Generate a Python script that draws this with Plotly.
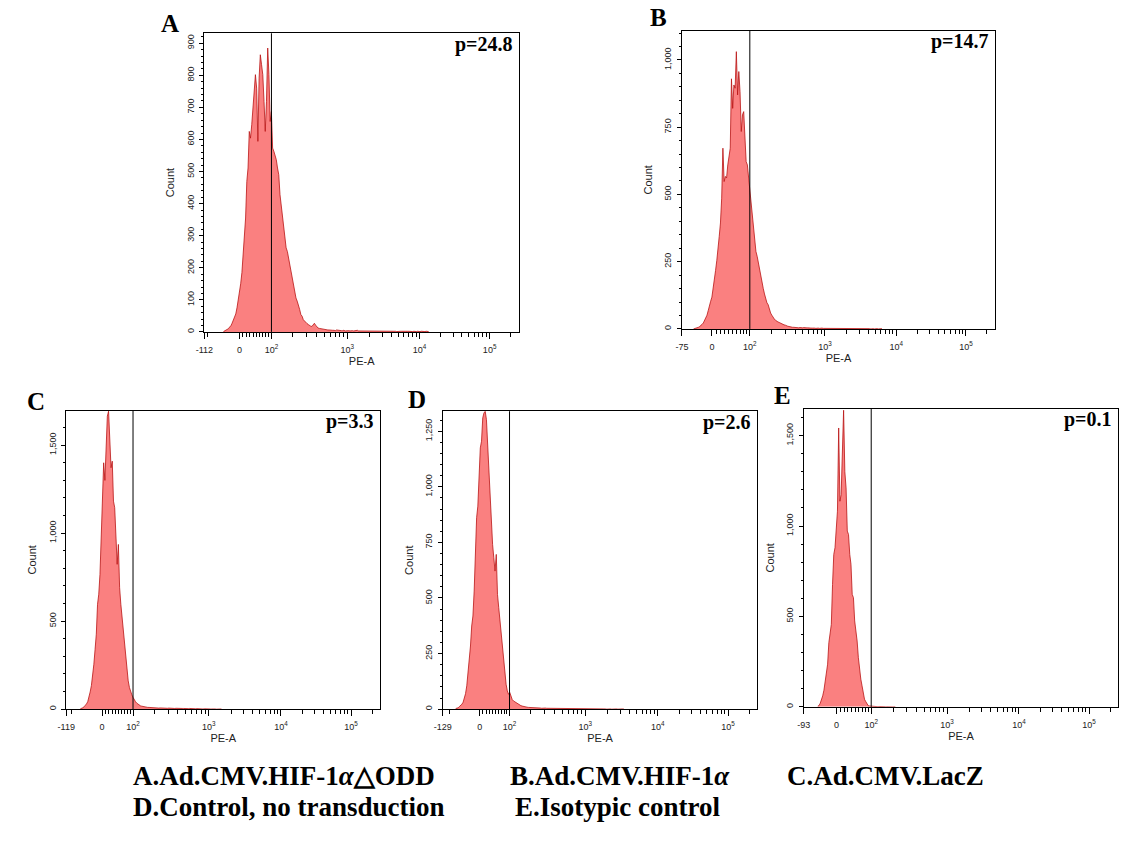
import numpy as np
import plotly.graph_objects as go

# ---------------- data (counts per display channel, 256 channels) ----------------
N_CH = 256
T_TOP = 262144.0
M_DEC = 4.5
GATE_VALUE = 100

PANELS = ["A", "B", "C", "D", "E"]
P_VALUES = ["p=24.8", "p=14.7", "p=3.3", "p=2.6", "p=0.1"]
X_MINS = [-112, -75, -119, -129, -93]
Y_MAXS = [931, 1109, 1697, 1340, 1648]
Y_DTICKS = [100, 250, 500, 250, 500]
X_TICK_VALUES = [0, 100, 1000, 10000, 100000]
X_TICK_TEXT = ["0", "10<sup>2</sup>", "10<sup>3</sup>", "10<sup>4</sup>", "10<sup>5</sup>"]
X_MINOR_VALUES = ([-100] + list(range(10, 100, 10)) + list(range(200, 1000, 100))
                  + list(range(2000, 10000, 1000)) + list(range(20000, 100000, 10000)) + [200000])

A_START = 15
A_PEAK = [1, 3, 5, 7, 10, 15, 19, 27, 35, 44, 56, 75, 96, 127, 150, 185, 241, 282, 355, 469,
          511, 625, 604, 646, 698, 719, 802, 760, 594, 791, 864, 833, 802, 719, 625, 719, 885, 802,
          656, 687, 573, 563, 552, 537, 511, 490, 428, 397, 366, 334, 298, 262, 251, 231, 210, 184,
          168, 147, 121, 106, 96, 85, 70, 54, 49, 38, 33, 30, 26, 23, 20, 18, 17, 21, 27, 21, 15,
          12, 11, 10, 9, 8, 8, 7, 7, 6]
A_TAIL = [6, 5, 6, 5, 5, 4, 6, 5, 4, 5, 4, 4, 5, 3, 4, 5, 4, 3, 4, 4, 3, 4, 3, 5, 3, 3, 4, 3, 3,
          4, 2, 3, 3, 4, 3, 2, 3, 3, 2, 3, 4, 2, 3, 2, 3, 2, 2, 3, 2, 3, 2, 2, 3, 2, 2, 1, 2, 3, 2,
          2, 1, 2, 2, 1, 2, 2, 1, 2, 1, 2, 1, 1, 2, 1, 1, 2, 1, 1, 1, 2, 1, 1]

B_START = 9
B_PEAK = [0, 1, 2, 4, 6, 9, 12, 17, 22, 30, 38, 51, 68, 90, 103, 118, 146, 179, 217, 254, 291,
          344, 394, 486, 672, 548, 567, 561, 610, 635, 672, 930, 820, 907, 895, 1031, 870, 957,
          882, 734, 796, 808, 722, 622, 610, 561, 511, 474, 437, 375, 313, 288, 270, 245, 226,
          189, 165, 150, 130, 109, 97, 90, 72, 59, 51, 41, 37, 32, 28, 26, 24, 21, 20, 17, 15,
          14, 11, 10, 9, 7]
B_TAIL = [7, 6, 6, 5, 6, 5, 4, 5, 4, 4, 5, 3, 4, 4, 3, 4, 3, 3, 4, 3, 2, 3, 3, 2, 3, 3, 2, 2, 3,
          2, 2, 3, 2, 2, 2, 1, 2, 2, 1, 2, 2, 1, 2, 1, 2, 1, 1, 2, 1, 1, 2, 1, 1, 1, 2, 1, 1, 1, 1,
          2, 1, 1, 1, 1, 1, 0, 1, 1, 0, 1, 1, 0, 1, 0, 1]

C_START = 11
C_PEAK = [2, 4, 8, 13, 19, 30, 42, 64, 98, 134, 185, 255, 339, 426, 596, 653, 766, 955, 1126,
          1400, 1300, 1561, 1665, 1693, 1561, 1372, 1409, 1182, 1145, 918, 823, 936, 690, 596,
          520, 435, 350, 274, 208, 161, 123, 95, 81, 66, 51, 42, 34, 28, 23, 19]
C_TAIL = [17, 15, 13, 12, 11, 10, 10, 9, 8, 9, 8, 7, 8, 7, 6, 7, 6, 6, 7, 5, 6, 5, 6, 5, 4, 5, 5,
          4, 5, 4, 4, 5, 3, 4, 4, 3, 4, 3, 3, 4, 3, 2, 3, 2, 2, 3, 2, 1, 2, 2, 1, 2, 1, 1, 2, 1, 1,
          1, 2, 1, 1, 0, 1, 1, 0, 1]

D_START = 10
D_PEAK = [3, 4, 6, 12, 16, 22, 31, 46, 70, 105, 157, 214, 284, 374, 419, 531, 689, 861, 913,
          1070, 1175, 1205, 1310, 1332, 1340, 1302, 1175, 1070, 936, 846, 741, 681, 621, 696,
          516, 457, 397, 322, 262, 210, 160, 112, 82, 67, 75, 52, 43, 37, 33, 28, 24]
D_TAIL = [21, 18, 16, 14, 12, 11, 10, 9, 8, 8, 7, 7, 6, 6, 6, 5, 5, 6, 5, 4, 5, 4, 5, 4, 4, 3, 4,
          4, 3, 4, 3, 3, 4, 3, 3, 2, 3, 3, 2, 3, 2, 3, 2, 2, 3, 2, 2, 2, 1, 2, 2, 1, 2, 2, 1, 2, 1,
          2, 1, 1, 2, 1, 1, 2, 1, 1, 1, 1, 2, 1, 1, 1, 0, 1, 1, 1, 0, 1, 1, 0, 1, 0, 1, 1, 0, 1, 0]

E_START = 11
E_PEAK = [4, 7, 20, 39, 61, 92, 134, 177, 236, 355, 401, 456, 677, 843, 880, 972, 1082, 1542,
          1137, 1174, 1386, 1640, 1300, 1211, 972, 953, 843, 788, 622, 604, 475, 420, 364, 272,
          199, 153, 116, 79, 42, 29, 15, 7]
E_TAIL = [5, 4, 3, 3, 2, 2, 2, 1, 2, 1, 1, 1, 0, 1, 1, 0, 1, 0, 1, 0, 0, 1]

STARTS = [A_START, B_START, C_START, D_START, E_START]
PEAKS = [A_PEAK, B_PEAK, C_PEAK, D_PEAK, E_PEAK]
TAILS = [A_TAIL, B_TAIL, C_TAIL, D_TAIL, E_TAIL]

CAPTIONS = [
    ("A.Ad.CMV.HIF-1<i>α</i>△ODD", 123, 777),
    ("B.Ad.CMV.HIF-1<i>α</i>", 503, 777),
    ("C.Ad.CMV.LacZ", 782, 777),
    ("D.Control, no transduction", 123, 808),
    ("E.Isotypic control", 508, 808),
]

# ---------------- layout (pixel boxes) ----------------
W, H = 1134, 850
BOXES = [(197, 514, 33.3, 332.3), (678.3, 994, 30.7, 329.3), (57.7, 374.3, 411, 710),
         (437.3, 754.3, 411.7, 710), (801, 1118.3, 409.3, 707.7)]
LETTER_POS = [(162, 24), (655, 18), (27, 402), (411, 400), (780, 396)]

# ---------------- logicle (biexponential) display scale ----------------
M_NAT = M_DEC * np.log(10.0)


def logicle_params(xmin):
    lo, hi = 1.000001, 20.0
    for _ in range(200):
        p = 0.5 * (lo + hi)
        w = 2 * p * np.log(p) / (p + 1)
        val = T_TOP * np.exp(-(M_NAT - w)) * (p * p - 1)
        if val > abs(xmin):
            hi = p
        else:
            lo = p
    p = 0.5 * (lo + hi)
    return p, 2 * p * np.log(p) / (p + 1)


def logicle_S(x, p, w):
    a = T_TOP * np.exp(-(M_NAT - w))
    if x >= w:
        d = x - w
        return a * (np.exp(d) - p * p * np.exp(-d / p) + p * p - 1)
    return -logicle_S(2 * w - x, p, w)


def to_channel(v, p, w):
    lo, hi = 0.0, M_NAT
    for _ in range(200):
        mid = 0.5 * (lo + hi)
        if logicle_S(mid, p, w) < v:
            lo = mid
        else:
            hi = mid
    return N_CH * 0.5 * (lo + hi) / M_NAT


AX_FONT = dict(family="Arial, Liberation Sans, sans-serif", size=9, color="#222")
SERIF = "Times New Roman, Liberation Serif, serif"

fig = go.Figure()
layout = dict(width=W, height=H, margin=dict(l=0, r=0, t=0, b=0),
              paper_bgcolor="white", plot_bgcolor="white", showlegend=False,
              annotations=[], shapes=[])

for i, name in enumerate(PANELS):
    sfx = "" if i == 0 else str(i + 1)
    xa, ya = "x" + sfx, "y" + sfx
    p, w = logicle_params(X_MINS[i])
    series = PEAKS[i] + TAILS[i]
    channels = STARTS[i] + np.arange(len(series)) + 0.5
    fig.add_trace(go.Scatter(x=channels, y=series, mode="lines", fill="tozeroy",
                             fillcolor="rgb(250,128,128)",
                             line=dict(color="rgb(185,20,20)", width=0.8),
                             xaxis=xa, yaxis=ya, hoverinfo="skip"))

    l, r, t, b = BOXES[i]
    tickvals = [0.0] + [to_channel(v, p, w) for v in X_TICK_VALUES]
    ticktext = [str(X_MINS[i])] + X_TICK_TEXT
    minor_vals = [to_channel(v, p, w) for v in X_MINOR_VALUES if v > X_MINS[i]]
    layout["xaxis" + sfx] = dict(
        domain=[l / W, r / W], anchor=ya, range=[0, N_CH], showgrid=False, zeroline=False,
        showline=True, mirror=True, linecolor="black", linewidth=1,
        tickmode="array", tickvals=tickvals, ticktext=ticktext, ticks="outside",
        ticklen=6, tickcolor="black", tickfont=AX_FONT, ticklabelstandoff=3,
        minor=dict(tickmode="array", tickvals=minor_vals, ticks="outside", ticklen=4,
                   tickcolor="black"),
        title=dict(text="PE-A", font=dict(family=AX_FONT["family"], size=11, color="#222"),
                   standoff=2),
        fixedrange=True)
    layout["yaxis" + sfx] = dict(
        domain=[1 - b / H, 1 - t / H], anchor=xa, range=[0, Y_MAXS[i]], showgrid=False,
        zeroline=False, showline=True, mirror=True, linecolor="black", linewidth=1,
        tickmode="linear", tick0=0, dtick=Y_DTICKS[i], tickformat=",d", ticks="outside",
        ticklen=4, tickcolor="black", tickangle=-90, tickfont=AX_FONT, ticklabelstandoff=2,
        minor=dict(dtick=Y_DTICKS[i] / 5, ticks="outside", ticklen=2, tickcolor="black"),
        title=dict(text="Count", font=dict(family=AX_FONT["family"], size=11, color="#222"),
                   standoff=8),
        fixedrange=True)

    gx = to_channel(GATE_VALUE, p, w)
    layout["shapes"].append(dict(type="line", xref=xa, yref=ya + " domain", x0=gx, x1=gx,
                                 y0=0, y1=1, line=dict(color="black", width=1)))
    layout["annotations"].append(dict(
        text=P_VALUES[i], xref="paper", yref="paper", x=(r - 4) / W, y=1 - (t + 11) / H,
        xanchor="right", yanchor="middle", showarrow=False,
        font=dict(family=SERIF, size=20, color="black", weight="bold")))
    lx, ly = LETTER_POS[i]
    layout["annotations"].append(dict(
        text=name, xref="paper", yref="paper", x=lx / W, y=1 - ly / H,
        xanchor="center", yanchor="middle", showarrow=False,
        font=dict(family=SERIF, size=25, color="black", weight="bold")))

for text, cx, cy in CAPTIONS:
    layout["annotations"].append(dict(
        text=text, xref="paper", yref="paper", x=cx / W, y=1 - cy / H,
        xanchor="left", yanchor="middle", showarrow=False,
        font=dict(family=SERIF, size=27, color="black", weight="bold")))

fig.update_layout(**layout)
fig.write_html("out.html", config={"displayModeBar": False},
               post_script="document.body.style.margin='0';")
